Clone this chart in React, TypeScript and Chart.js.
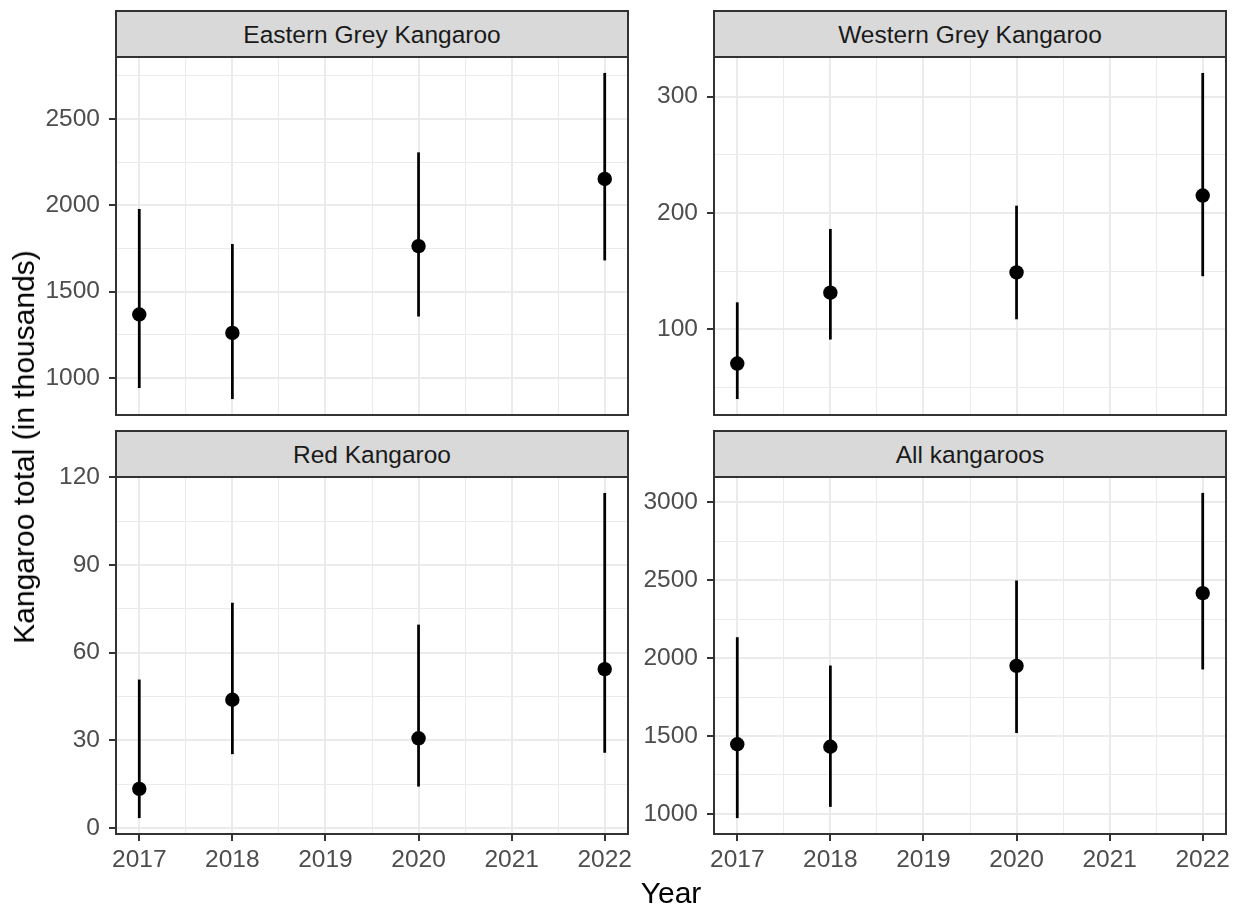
import React, { useEffect, useRef } from "react";
import { Chart, registerables } from "chart.js";

Chart.register(...registerables);

// ---------- data ----------
const surveyYears = [2017, 2018, 2020, 2022];
const xTickYears = [2017, 2018, 2019, 2020, 2021, 2022];

const easternEst = [1368, 1261, 1764, 2153];
const easternLow = [944, 880, 1358, 1683];
const easternHigh = [1977, 1774, 2305, 2765];
const easternTicks = [1000, 1500, 2000, 2500];

const westernEst = [70.7, 131.6, 149, 215];
const westernLow = [40.5, 91.6, 109, 146];
const westernHigh = [123, 186, 206, 320];
const westernTicks = [100, 200, 300];

const redEst = [13.4, 43.9, 30.7, 54.4];
const redLow = [3.5, 25.4, 14.3, 25.9];
const redHigh = [50.7, 77, 69.5, 114.6];
const redTicks = [0, 30, 60, 90, 120];

const allEst = [1447, 1431, 1950, 2417];
const allLow = [975, 1047, 1521, 1929];
const allHigh = [2132, 1950, 2496, 3058];
const allTicks = [1000, 1500, 2000, 2500, 3000];

const panelTitles = ["Eastern Grey Kangaroo", "Western Grey Kangaroo", "Red Kangaroo", "All kangaroos"];
const xTitle = "Year";
const yTitle = "Kangaroo total (in thousands)";

// ---------- layout ----------
const FONT = "'Liberation Sans', Arial, Helvetica, sans-serif";
const TICK_FONT = 24.5;
const TITLE_FONT = 30;
const PLOT_W = 512;
const STRIP_H = 46;
const TICK_LEN = 7;
const RIGHT_PAD = 32;
const colLeft = [116, 714];
const colYW = [116, 84];
const rowTop = [57, 477];
const rowH = [358, 357];

type Spec = {
  title: string;
  est: number[];
  low: number[];
  high: number[];
  yTicks: number[];
  col: number;
  row: number;
};

const specs: Spec[] = [
  { title: panelTitles[0], est: easternEst, low: easternLow, high: easternHigh, yTicks: easternTicks, col: 0, row: 0 },
  { title: panelTitles[1], est: westernEst, low: westernLow, high: westernHigh, yTicks: westernTicks, col: 1, row: 0 },
  { title: panelTitles[2], est: redEst, low: redLow, high: redHigh, yTicks: redTicks, col: 0, row: 1 },
  { title: panelTitles[3], est: allEst, low: allLow, high: allHigh, yTicks: allTicks, col: 1, row: 1 },
];

const panelBorder = {
  id: "panelBorder",
  afterDraw(chart: any) {
    const { ctx, chartArea } = chart;
    const { left, top, right, bottom } = chartArea;
    ctx.save();
    ctx.strokeStyle = "#333333";
    ctx.lineWidth = 2;
    ctx.strokeRect(left, top, right - left, bottom - top);
    ctx.restore();
  },
};

function withMinors(majors: number[], min: number, max: number) {
  const step = majors[1] - majors[0];
  const out: number[] = [majors[0] - step / 2];
  majors.forEach((m) => {
    out.push(m);
    out.push(m + step / 2);
  });
  return out.filter((v) => v >= min - 1e-9 && v <= max + 1e-9);
}

function Panel({ spec }: { spec: Spec }) {
  const ref = useRef<HTMLCanvasElement>(null);
  const showX = spec.row === 1;
  const yw = colYW[spec.col];
  const xh = showX ? 60 : 20;
  const plotH = rowH[spec.row];
  const width = yw + PLOT_W + RIGHT_PAD;
  const height = STRIP_H + plotH + xh;
  const left = colLeft[spec.col] - yw;
  const top = rowTop[spec.row] - STRIP_H;

  useEffect(() => {
    if (!ref.current) return;
    const lo = Math.min(...spec.low);
    const hi = Math.max(...spec.high);
    const ymin = lo - 0.05 * (hi - lo);
    const ymax = hi + 0.05 * (hi - lo);
    const x0 = xTickYears[0];
    const x1 = xTickYears[xTickYears.length - 1];
    const xmin = x0 - 0.05 * (x1 - x0);
    const xmax = x1 + 0.05 * (x1 - x0);
    const yAll = withMinors(spec.yTicks, ymin, ymax);
    const xAll = withMinors(xTickYears, xmin, xmax);
    const isMajor = (list: number[], v: number) => list.some((m) => Math.abs(m - v) < 1e-9);

    const chart = new Chart(ref.current, {
      type: "scatter",
      data: {
        datasets: [
          {
            type: "scatter",
            data: surveyYears.map((x, i) => ({ x, y: spec.est[i] })),
            pointRadius: 7.2,
            pointBackgroundColor: "#000000",
            pointBorderWidth: 0,
            pointBorderColor: "#000000",
            order: 0,
          } as any,
          {
            type: "bar",
            data: surveyYears.map((x, i) => ({ x, y: [spec.low[i], spec.high[i]] })),
            backgroundColor: "#000000",
            borderWidth: 0,
            barThickness: 2.1,
            grouped: false,
            order: 1,
          } as any,
        ],
      },
      options: {
        animation: false,
        responsive: false,
        devicePixelRatio: 1,
        events: [],
        layout: { padding: { top: STRIP_H, right: RIGHT_PAD, left: 0, bottom: 0 } },
        plugins: {
          legend: { display: false },
          tooltip: { enabled: false },
          title: { display: false },
        },
        scales: {
          x: {
            type: "linear",
            min: xmin,
            max: xmax,
            offset: false,
            afterBuildTicks: (s: any) => {
              s.ticks = xAll.map((v) => ({ value: v }));
            },
            afterFit: (s: any) => {
              s.height = xh;
            },
            ticks: {
              display: showX,
              autoSkip: false,
              maxRotation: 0,
              minRotation: 0,
              padding: 5,
              color: "#4D4D4D",
              font: { family: FONT, size: TICK_FONT },
              callback: (v: any) => (isMajor(xTickYears, Number(v)) ? String(Math.round(Number(v))) : ""),
            },
            grid: {
              offset: false,
              color: "#EBEBEB",
              lineWidth: (c: any) => (c.tick && isMajor(xTickYears, c.tick.value) ? 2 : 1),
              drawTicks: showX,
              tickLength: TICK_LEN,
              tickWidth: 2,
              tickColor: (c: any) => (c.tick && isMajor(xTickYears, c.tick.value) ? "#333333" : "rgba(0,0,0,0)"),
            },
            border: { display: false },
          },
          y: {
            type: "linear",
            min: ymin,
            max: ymax,
            afterBuildTicks: (s: any) => {
              s.ticks = yAll.map((v) => ({ value: v }));
            },
            afterFit: (s: any) => {
              s.width = yw;
              s.paddingTop = 0;
              s.paddingBottom = 0;
            },
            ticks: {
              autoSkip: false,
              padding: 9,
              color: "#4D4D4D",
              font: { family: FONT, size: TICK_FONT },
              callback: (v: any) => (isMajor(spec.yTicks, Number(v)) ? String(Number(v)) : ""),
            },
            grid: {
              color: "#EBEBEB",
              lineWidth: (c: any) => (c.tick && isMajor(spec.yTicks, c.tick.value) ? 2 : 1),
              drawTicks: true,
              tickLength: TICK_LEN,
              tickWidth: 2,
              tickColor: (c: any) => (c.tick && isMajor(spec.yTicks, c.tick.value) ? "#333333" : "rgba(0,0,0,0)"),
            },
            border: { display: false },
          },
        },
      } as any,
      plugins: [panelBorder],
    });
    return () => chart.destroy();
  }, []);

  const plotLeft = colLeft[spec.col];
  const plotTop = rowTop[spec.row];
  return (
    <>
      <canvas
        ref={ref}
        width={width}
        height={height}
        style={{ position: "absolute", left, top, width, height, display: "block" }}
      />
      <div
        style={{
          position: "absolute",
          left: plotLeft - 1,
          top: plotTop - STRIP_H - 1,
          width: PLOT_W + 2,
          height: STRIP_H + 2,
          boxSizing: "border-box",
          border: "2px solid #333333",
          background: "#D9D9D9",
        }}
      />
      <div
        style={{
          position: "absolute",
          left: plotLeft + PLOT_W / 2,
          top: plotTop - 13 - 0.846 * TICK_FONT,
          transform: "translateX(-50%)",
          whiteSpace: "nowrap",
          fontFamily: FONT,
          fontSize: TICK_FONT,
          lineHeight: 1,
          color: "#1A1A1A",
        }}
      >
        {spec.title}
      </div>
    </>
  );
}

export default function App() {
  return (
    <div
      style={{
        position: "absolute",
        left: 0,
        top: 0,
        width: 1240,
        height: 908,
        background: "#FFFFFF",
        overflow: "hidden",
        fontFamily: FONT,
      }}
    >
      {specs.map((s) => (
        <Panel key={s.title} spec={s} />
      ))}
      <div
        style={{
          position: "absolute",
          left: 671,
          top: 903 - 0.846 * TITLE_FONT,
          transform: "translateX(-50%)",
          whiteSpace: "nowrap",
          fontSize: TITLE_FONT,
          lineHeight: 1,
          color: "#000000",
        }}
      >
        {xTitle}
      </div>
      <div
        style={{
          position: "absolute",
          left: 24,
          top: 447,
          transform: "translate(-50%, -50%) rotate(-90deg)",
          whiteSpace: "nowrap",
          fontSize: TITLE_FONT,
          lineHeight: 1,
          color: "#000000",
        }}
      >
        {yTitle}
      </div>
    </div>
  );
}
